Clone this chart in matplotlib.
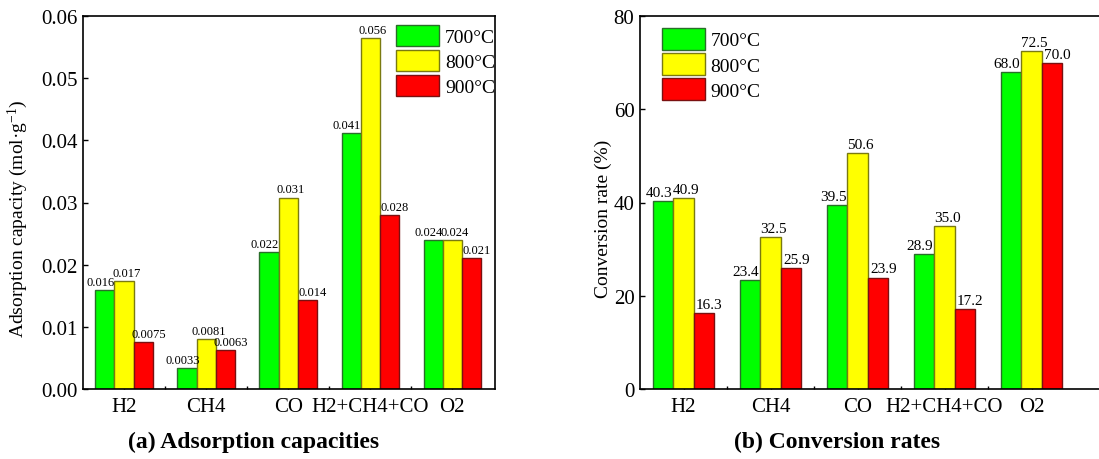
#!/usr/bin/env python3
import numpy as np
import matplotlib
matplotlib.use("Agg")
import matplotlib.pyplot as plt

plt.rcParams['font.family'] = ['Liberation Serif', 'DejaVu Serif']
plt.rcParams['mathtext.fontset'] = 'custom'
plt.rcParams['mathtext.rm'] = 'Liberation Serif'
plt.rcParams['mathtext.it'] = 'Liberation Serif:italic'

# data
gases = ["H2", "CH4", "CO", "H2+CH4+CO", "O2"]
temps = ["700°C", "800°C", "900°C"]
adsorption_700 = [0.0159, 0.0033, 0.0221, 0.0412, 0.0239]
adsorption_800 = [0.0174, 0.0081, 0.0308, 0.0564, 0.0239]
adsorption_900 = [0.0075, 0.0063, 0.0143, 0.0280, 0.0211]
conversion_700 = [40.3, 23.4, 39.5, 28.9, 68.0]
conversion_800 = [40.9, 32.5, 50.6, 35.0, 72.5]
conversion_900 = [16.3, 25.9, 23.9, 17.2, 70.0]

fills = ["#00FF00", "#FFFF00", "#FF0000"]
edges = ["#2a6e2a", "#7a7a10", "#7a1010"]
label_dx = [-3, 2, 4]   # small sideways nudge of value labels (points)


def draw_panel(ax, series, fmt, label_size):
    x = np.arange(1, len(gases) + 1)
    w = 0.233
    for i, vals in enumerate(series):
        bars = ax.bar(x + (i - 1) * w, vals, width=w, color=fills[i],
                      edgecolor=edges[i], linewidth=1.0, label=temps[i], zorder=2)
        anns = ax.bar_label(bars, fmt=fmt, padding=1.5, fontsize=label_size)
        for a in anns:
            a.xyann = (label_dx[i], 1.5)
    ax.set_xticks(x)
    ax.set_xticklabels(gases)
    ax.set_xticks(x[:-1] + 0.5, minor=True)
    ax.tick_params(axis='x', which='major', direction='in', length=3.5, width=1.0,
                   labelsize=15, pad=6)
    ax.tick_params(axis='x', which='minor', direction='in', length=2.5, width=1.0)
    ax.tick_params(axis='y', which='major', direction='in', length=3.5, width=1.0,
                   labelsize=15, pad=4)
    for s in ax.spines.values():
        s.set_linewidth(1.2)
        s.set_zorder(3)


leg_style = dict(frameon=False, fontsize=14, borderpad=0, borderaxespad=0,
                 handlelength=2.2, handleheight=1.3, labelspacing=0.2,
                 handletextpad=0.3)

fig = plt.figure(figsize=(10.99, 4.6), dpi=100)

# (a) adsorption capacities
ax1 = fig.add_axes([83 / 1099, 1 - 390 / 460, 412 / 1099, 373 / 460])
draw_panel(ax1, [adsorption_700, adsorption_800, adsorption_900], '{:.2g}', 9)
ax1.set_xlim(0.5, 5.52)
ax1.set_ylim(0, 0.06)
ax1.set_yticks(np.arange(0, 0.061, 0.01))
ax1.set_yticklabels([f"{v:.2f}" for v in np.arange(0, 0.061, 0.01)])
ax1.set_ylabel("Adsorption capacity (mol·g$^{-1}$)", fontsize=14)
ax1.yaxis.set_label_coords(-0.128, 0.46)
ax1.legend(loc='upper right', bbox_to_anchor=(1.0, 0.977), **leg_style)

# (b) conversion rates, axes runs past the right edge of the figure
ax2 = fig.add_axes([640 / 1099, 1 - 390 / 460, 478.5 / 1099, 373 / 460])
draw_panel(ax2, [conversion_700, conversion_800, conversion_900], '{:.1f}', 11)
ax2.set_xlim(0.5, 6.0)
ax2.set_ylim(0, 80)
ax2.set_yticks([0, 20, 40, 60, 80])
ax2.set_ylabel("Conversion rate (%)", fontsize=14)
ax2.yaxis.set_label_coords(-0.058, 0.46)
ax2.legend(loc='upper left', bbox_to_anchor=(0.046, 0.967), **leg_style)

fig.text(254 / 1099, 1 - 442 / 460, "(a) Adsorption capacities", ha='center',
         va='center', fontsize=17, fontweight='bold')
fig.text(837 / 1099, 1 - 442 / 460, "(b) Conversion rates", ha='center',
         va='center', fontsize=17, fontweight='bold')

fig.savefig("out.png", dpi=100)
